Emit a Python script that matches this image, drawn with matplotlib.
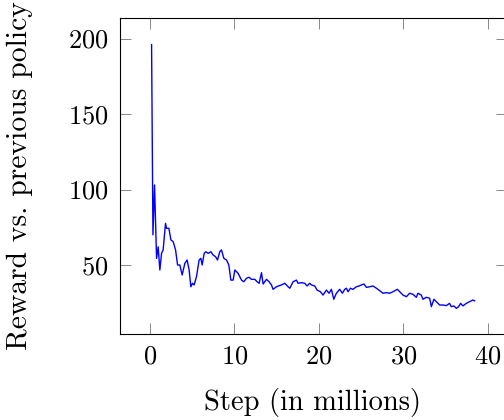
import matplotlib
matplotlib.use("Agg")
import matplotlib.pyplot as plt

plt.rcParams['font.family'] = 'serif'
plt.rcParams['font.serif'] = ['cmr10']
plt.rcParams['mathtext.fontset'] = 'cm'
plt.rcParams['axes.formatter.use_mathtext'] = True
plt.rcParams['axes.unicode_minus'] = False

steps = [0.20, 0.36, 0.55, 0.79, 0.98, 1.18, 1.38, 1.57, 1.85, 1.97, 2.25, 2.49, 2.76,
         3.04, 3.28, 3.55, 3.82, 4.14, 4.41, 4.65, 4.85, 5.05, 5.24, 5.52, 5.83, 6.04,
         6.19, 6.43, 6.63, 6.90, 7.22, 7.49, 7.78, 8.01, 8.28, 8.48, 8.76, 9.08, 9.35,
         9.59, 9.86, 10.06, 10.45, 10.85, 11.12, 11.44, 11.75, 12.03, 12.43, 12.70,
         12.94, 13.22, 13.41, 13.81, 14.12, 14.40, 14.59, 14.99, 15.58, 15.98, 16.37,
         16.57, 16.96, 17.36, 17.55, 17.95, 18.34, 18.62, 18.93, 19.13, 19.53, 19.80,
         20.20, 20.51, 20.91, 21.22, 21.50, 21.78, 22.09, 22.49, 22.80, 23.08, 23.28,
         23.47, 23.75, 24.06, 24.46, 24.77, 25.05, 25.36, 25.64, 26.04, 26.43, 26.83,
         27.22, 27.61, 28.01, 28.40, 28.79, 29.31, 29.59, 29.98, 30.38, 30.77, 31.16,
         31.56, 31.75, 32.15, 32.34, 32.74, 33.14, 33.34, 33.64, 33.93, 34.32, 34.71,
         35.11, 35.50, 35.70, 36.01, 36.30, 36.57, 36.80, 37.08, 37.48, 37.87, 38.26,
         38.46]
reward = [196, 70, 103, 54.4, 62, 46.7, 57.7, 60, 77.6, 74.3, 74.3, 66.6, 65.4,
          60, 50, 50, 43.4, 51.1, 53.3, 46.7, 35.6, 37.9, 36.8, 42.3, 53.3, 54.4,
          50, 57.7, 58.8, 57.7, 58.8, 56.6, 55.5, 53.3, 58.8, 60, 54.4, 53.3, 50,
          40, 40, 46.7, 44.5, 40, 38.9, 41.2, 41.9, 40.5, 40.5, 38.9,
          37.9, 44.9, 37.4, 40.5, 38.9, 36.8, 33.9, 35.6, 36.8, 37.9, 35.6,
          34.6, 38.9, 40, 37.9, 38.3, 37.9, 36.1, 37.9, 36.8, 36.1, 33.4,
          32.3, 30.1, 33.4, 31.3, 33.9, 27.3, 31.3, 33.9, 31.3, 33.9, 34.6,
          32.3, 34.6, 33.9, 35.6, 36.1, 36.8, 37.4, 35.2, 35.6, 36.1, 34.6,
          33.0, 31.3, 31.7, 31.3, 32.3, 33.9, 32.3, 30.1, 29.0, 31.3, 30.6,
          28.6, 31.3, 30.1, 27.3, 28.6, 28.0, 22.4, 27.3, 25.7, 23.5, 23.5,
          23.1, 24.6, 22.4, 22.9, 21.3, 22.4, 24.6, 22.9, 24.6, 25.7, 26.8,
          26.3]

xticks = [0, 10, 20, 30, 40]
yticks = [50, 100, 150, 200]

fig = plt.figure(figsize=(5.04, 4.20), dpi=100)
W, H = 504, 420
left, right, top, bottom = 119.5, 507, 18, 334
aw, ah = right - left, bottom - top
ax = fig.add_axes([left / W, (H - bottom) / H, aw / W, ah / H])

ax.plot(steps, reward, color=(0, 0, 1), lw=1.0)
ax.set_xlim(-3.6, 42.3)
ax.set_ylim(4.3, 213.6)
ax.set_xticks(xticks)
ax.set_yticks(yticks)
ax.tick_params(direction='in', top=True, right=True, length=7.9, width=0.7,
               color='#888888', labelsize=19, pad=8)
for s in ax.spines.values():
    s.set_linewidth(0.8)
ax.set_xlabel('Step (in millions)', fontsize=20.5)
ax.set_ylabel('Reward vs. previous policy', fontsize=21.3)
ax.xaxis.set_label_coords((312 - left) / aw, (bottom - 388) / ah)
ax.yaxis.set_label_coords((33 - left) / aw, (bottom - 176) / ah)

fig.savefig('out.png', dpi=100)
